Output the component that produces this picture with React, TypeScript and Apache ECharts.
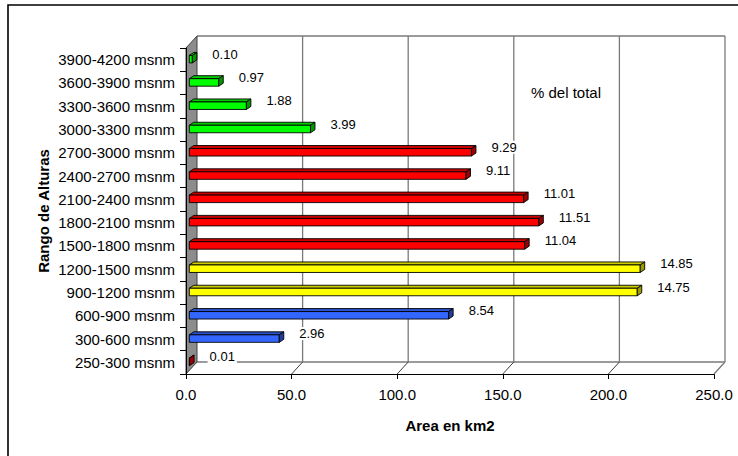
import React, { useEffect, useRef } from "react";
import * as echarts from "echarts";

// ---- data ----
const categories = [
  "3900-4200 msnm",
  "3600-3900 msnm",
  "3300-3600 msnm",
  "3000-3300 msnm",
  "2700-3000 msnm",
  "2400-2700 msnm",
  "2100-2400 msnm",
  "1800-2100 msnm",
  "1500-1800 msnm",
  "1200-1500 msnm",
  "900-1200 msnm",
  "600-900 msnm",
  "300-600 msnm",
  "250-300 msnm",
];
const areaKm2 = [1.44, 13.95, 27.03, 57.38, 133.6, 131.0, 158.3, 165.5, 158.8, 213.5, 212.1, 122.8, 42.6, 0.14];
const pctLabels = ["0.10", "0.97", "1.88", "3.99", "9.29", "9.11", "11.01", "11.51", "11.04", "14.85", "14.75", "8.54", "2.96", "0.01"];
const zoneOf = [1, 1, 1, 1, 2, 2, 2, 2, 2, 3, 3, 4, 4, 2];
const xTickValues = [0, 50, 100, 150, 200, 250];

// ---- styles ----
const FONT = "'Liberation Sans', Arial, Helvetica, sans-serif";
const palette: Record<number, { front: string; top: string; side: string }> = {
  1: { front: "#00FF00", top: "#00CC00", side: "#009900" },
  2: { front: "#FF0000", top: "#CC0000", side: "#990000" },
  3: { front: "#FFFF00", top: "#CCCC00", side: "#999900" },
  4: { front: "#3366FF", top: "#2952CC", side: "#1F3D99" },
};
const DEPTH_X = 11;
const DEPTH_Y = -12;

export default function App() {
  const ref = useRef<HTMLDivElement>(null);
  useEffect(() => {
    if (!ref.current) return;
    const chart = echarts.init(ref.current, null, { renderer: "svg" });
    const xMin = xTickValues[0];
    const xMax = xTickValues[xTickValues.length - 1];
    const xInt = xTickValues[1] - xTickValues[0];

    const option: any = {
      animation: false,
      backgroundColor: "#ffffff",
      grid: { left: 186, top: 48, width: 528, height: 326, containLabel: false },
      xAxis: {
        type: "value",
        min: xMin,
        max: xMax,
        interval: xInt,
        axisLine: { show: true, lineStyle: { color: "#000", width: 1 } },
        axisTick: { show: true, length: 5, lineStyle: { color: "#000" } },
        splitLine: { show: false },
        axisLabel: {
          margin: 13,
          fontSize: 15,
          fontFamily: FONT,
          color: "#000",
          formatter: (v: number) => v.toFixed(1),
        },
        name: "Area en km2",
        nameLocation: "middle",
        nameGap: 44,
        nameTextStyle: { fontSize: 15, fontWeight: "bold", fontFamily: FONT, color: "#000" },
      },
      yAxis: {
        type: "category",
        data: categories,
        inverse: true,
        axisLine: { show: true, lineStyle: { color: "#000", width: 1 } },
        axisTick: { show: true, length: 6, lineStyle: { color: "#000" } },
        splitLine: { show: false },
        axisLabel: {
          margin: 11,
          fontSize: 15,
          fontFamily: FONT,
          color: "#000",
          padding: [0, 0, 3, 0],
        },
        z: 5,
      },
      graphic: [
        {
          type: "rect",
          z: 0,
          shape: { x: 8, y: 5, width: 800, height: 500 },
          style: { fill: "none", stroke: "#000", lineWidth: 1.6 },
        },
        {
          type: "text",
          x: 43,
          y: 211,
          rotation: Math.PI / 2,
          style: {
            text: "Rango de Alturas",
            fontSize: 15,
            fontWeight: "bold",
            fontFamily: FONT,
            fill: "#000",
            align: "center",
            verticalAlign: "middle",
          },
        },
        {
          type: "text",
          x: 566,
          y: 92.5,
          style: {
            text: "% del total",
            fontSize: 15,
            fontFamily: FONT,
            fill: "#000",
            align: "center",
            verticalAlign: "middle",
          },
        },
      ],
      series: [
        {
          type: "custom",
          name: "walls",
          z: 1,
          silent: true,
          data: [[0, 0]],
          renderItem: (params: any, api: any) => {
            const cs = params.coordSys;
            const x0 = cs.x, y0 = cs.y, x1 = cs.x + cs.width, y1 = cs.y + cs.height;
            const children: any[] = [];
            const grid = { stroke: "#7a7a7a", lineWidth: 1.3 };
            children.push({ type: "line", shape: { x1: x0 + DEPTH_X, y1: y0 + DEPTH_Y, x2: x1 + DEPTH_X, y2: y0 + DEPTH_Y }, style: grid });
            children.push({ type: "line", shape: { x1: x0 + DEPTH_X, y1: y1 + DEPTH_Y, x2: x1 + DEPTH_X, y2: y1 + DEPTH_Y }, style: grid });
            children.push({ type: "line", shape: { x1: x1, y1: y1, x2: x1 + DEPTH_X, y2: y1 + DEPTH_Y }, style: grid });
            xTickValues.forEach((v, k) => {
              if (k === 0) return;
              const px = api.coord([v, 0])[0];
              children.push({
                type: "line",
                shape: { x1: px + DEPTH_X, y1: y0 + DEPTH_Y, x2: px + DEPTH_X, y2: y1 + DEPTH_Y },
                style: grid,
              });
              if (k < xTickValues.length - 1) {
                children.push({
                  type: "line",
                  shape: { x1: px, y1: y1, x2: px + DEPTH_X, y2: y1 + DEPTH_Y },
                  style: { stroke: "#404040", lineWidth: 1 },
                });
              }
            });
            children.push({
              type: "polygon",
              shape: {
                points: [
                  [x0, y0],
                  [x0 + DEPTH_X, y0 + DEPTH_Y],
                  [x0 + DEPTH_X, y1 + DEPTH_Y],
                  [x0, y1],
                ],
              },
              style: { fill: "#8c8c8c", stroke: "#404040", lineWidth: 1 },
            });
            return { type: "group", children };
          },
        },
        {
          type: "custom",
          name: "Area",
          z: 3,
          data: areaKm2.map((v, i) => [v, i]),
          encode: { x: 0, y: 1 },
          renderItem: (params: any, api: any) => {
            const v = api.value(0);
            const i = api.value(1);
            const start = api.coord([0, i]);
            const end = api.coord([v, i]);
            const col = palette[zoneOf[i]];
            const h = 7.5;
            const shift = 3.3;
            const ddx = 4.5, ddy = -3;
            const cy = start[1] - 0.5;
            const xa = start[0] + shift;
            const xb = end[0] + shift;
            const top = cy - h / 2;
            const bot = cy + h / 2;
            const stroke = { stroke: "#000", lineWidth: 0.9 };
            return {
              type: "group",
              children: [
                {
                  type: "polygon",
                  shape: { points: [[xa, top], [xa + ddx, top + ddy], [xb + ddx, top + ddy], [xb, top]] },
                  style: { fill: col.top, ...stroke },
                },
                {
                  type: "rect",
                  shape: { x: xa, y: top, width: Math.max(xb - xa, 0), height: h },
                  style: { fill: col.front, ...stroke },
                },
                {
                  type: "polygon",
                  shape: { points: [[xb, top], [xb + ddx, top + ddy], [xb + ddx, bot + ddy], [xb, bot]] },
                  style: { fill: col.side, ...stroke },
                },
                {
                  type: "text",
                  x: xb + 18,
                  y: cy - 5,
                  style: {
                    text: pctLabels[i],
                    fontSize: 13,
                    fontFamily: FONT,
                    fill: "#000",
                    align: "left",
                    verticalAlign: "middle",
                    backgroundColor: "#fff",
                    padding: [0, 2],
                  },
                },
              ],
            };
          },
        },
      ],
    };
    chart.setOption(option);
    return () => chart.dispose();
  }, []);
  return (
    <div
      ref={ref}
      style={{ position: "absolute", left: 0, top: 0, width: 738, height: 456, background: "#fff" }}
    />
  );
}
